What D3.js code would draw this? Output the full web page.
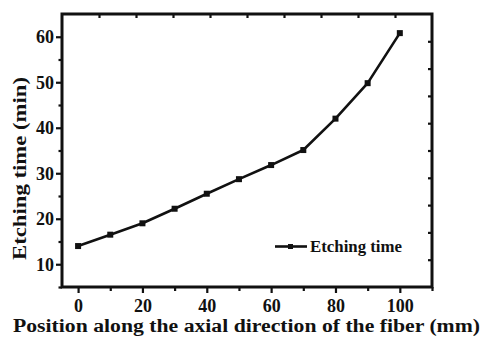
<!DOCTYPE html>
<html>
<head>
<meta charset="utf-8">
<script src="https://cdn.jsdelivr.net/npm/d3@7"></script>
<style>
  html, body { margin: 0; padding: 0; background: #fff; }
  svg text { font-family: "Liberation Serif", "Times New Roman", serif; font-weight: bold; fill: #111; }
</style>
</head>
<body>
<svg id="chart" width="483" height="339"></svg>
<script>
// Etching time measured along the fiber axis
const positions = [0, 10, 20, 30, 40, 50, 60, 70, 80, 90, 100];
const etchingTimes = [14, 16.5, 19, 22.2, 25.5, 28.7, 31.8, 35.1, 42, 49.8, 60.8];
const xTickValues = [0, 20, 40, 60, 80, 100];
const yTickValues = [10, 20, 30, 40, 50, 60];
const seriesName = "Etching time";
const xTitle = "Position along the axial direction of the fiber (mm)";
const yTitle = "Etching time (min)";

const svg = d3.select("#chart");
const m = { left: 62, top: 14, right: 432, bottom: 287 };

const x = d3.scaleLinear().domain([-5, 110]).range([m.left, m.right]);
const y = d3.scaleLinear().domain([5, 65]).range([m.bottom, m.top]);

const ink = "#111";
const serif = '"Liberation Serif", "Times New Roman", serif';

// bottom axis: labelled majors + minor ticks
const bottom = svg.append("g").attr("transform", `translate(0,${m.bottom})`);
bottom.call(d3.axisBottom(x).tickValues(xTickValues).tickSize(6).tickPadding(6).tickFormat(d3.format("d")));
bottom.append("g").call(d3.axisBottom(x).tickValues(d3.range(10, 111, 20)).tickSize(4).tickFormat(""));
bottom.selectAll(".tick text").attr("font-size", 18);

// left axis
const left = svg.append("g").attr("transform", `translate(${m.left},0)`);
left.call(d3.axisLeft(y).tickValues(yTickValues).tickSize(6).tickPadding(2).tickFormat(d3.format("d")));
left.append("g").call(d3.axisLeft(y).tickValues(d3.range(15, 61, 10).concat([5])).tickSize(3.5).tickFormat(""));
left.selectAll(".tick text").attr("font-size", 18);

// top and right axes: evenly divided, ticks pointing inward
const xTop = d3.scaleLinear().domain([0, 10]).range([m.left, m.right]);
const yRight = d3.scaleLinear().domain([0, 10]).range([m.top, m.bottom]);
svg.append("g").attr("transform", `translate(0,${m.top})`)
  .call(d3.axisBottom(xTop).tickValues(d3.range(1, 10)).tickSize(4).tickFormat(""));
svg.append("g").attr("transform", `translate(${m.right},0)`)
  .call(d3.axisLeft(yRight).tickValues(d3.range(1, 10)).tickSize(4).tickFormat(""));

svg.selectAll(".domain").remove();
svg.selectAll(".tick line").attr("stroke", ink).attr("stroke-width", 2.2);
svg.selectAll(".tick text").attr("fill", ink)
  .style("font-family", serif).style("font-weight", "bold");

// frame
svg.append("rect")
  .attr("x", m.left).attr("y", m.top)
  .attr("width", m.right - m.left).attr("height", m.bottom - m.top)
  .attr("fill", "none").attr("stroke", ink).attr("stroke-width", 3);

// data line and markers
const pts = positions.map((p, i) => [p, etchingTimes[i]]);
svg.append("path")
  .datum(pts)
  .attr("fill", "none").attr("stroke", ink).attr("stroke-width", 2.6)
  .attr("stroke-linejoin", "round")
  .attr("d", d3.line().x(d => x(d[0])).y(d => y(d[1])));
svg.selectAll("rect.pt").data(pts).enter().append("rect")
  .attr("class", "pt")
  .attr("x", d => x(d[0]) - 3).attr("y", d => y(d[1]) - 3)
  .attr("width", 6).attr("height", 6).attr("fill", ink);

// legend
const lg = svg.append("g").attr("transform", "translate(275,246.5)");
lg.append("line").attr("x1", 0).attr("x2", 32).attr("y1", 0).attr("y2", 0)
  .attr("stroke", ink).attr("stroke-width", 2.6);
lg.append("rect").attr("x", 13).attr("y", -2.5).attr("width", 5).attr("height", 5).attr("fill", ink);
lg.append("text").attr("x", 35).attr("y", 5.5).attr("font-size", 16)
  .attr("textLength", 92).attr("lengthAdjust", "spacingAndGlyphs")
  .text(seriesName);

// axis titles
svg.append("text")
  .attr("x", 13).attr("y", 332)
  .attr("font-size", 18.5)
  .attr("textLength", 467).attr("lengthAdjust", "spacingAndGlyphs")
  .text(xTitle);
svg.append("text")
  .attr("transform", "translate(26,260) rotate(-90)")
  .attr("font-size", 19.5)
  .attr("textLength", 183).attr("lengthAdjust", "spacingAndGlyphs")
  .text(yTitle);
</script>
</body>
</html>
